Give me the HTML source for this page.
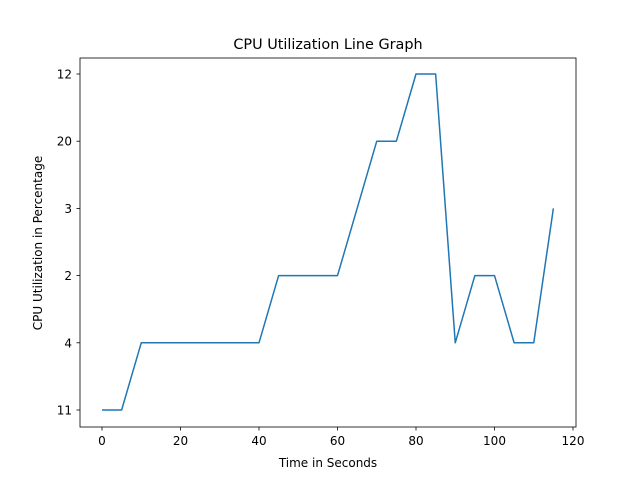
<!DOCTYPE html>
<html><head><meta charset="utf-8"><style>
body{margin:0;background:#fff}
text{font-family:"DejaVu Sans","Liberation Sans",sans-serif;fill:#000}
</style></head><body>
<svg id="chart" width="640" height="480">
<rect x="0" y="0" width="640" height="480" fill="#fff"/>
<text x="328" y="49" font-size="14.4" text-anchor="middle">CPU Utilization Line Graph</text>
<text x="328" y="467" font-size="12" text-anchor="middle">Time in Seconds</text>
<text x="0" y="0" font-size="12" text-anchor="middle" transform="translate(42,243) rotate(-90)">CPU Utilization in Percentage</text>
<g id="ticks"></g>
<path id="line" fill="none" stroke="#1f77b4" stroke-width="1.5" stroke-linejoin="round"/>
<rect x="80" y="58" width="496" height="369" fill="none" stroke="#000" stroke-width="0.8"/>
</svg>
<script>
const categories = ["11","4","2","3","20","12"];
const times = [0,5,10,15,20,25,30,35,40,45,50,55,60,65,70,75,80,85,90,95,100,105,110,115];
const values = ["11","11","4","4","4","4","4","4","4","2","2","2","2","3","20","20","12","12","4","2","2","4","4","3"];
const xTicks = [0,20,40,60,80,100,120];

const NS="http://www.w3.org/2000/svg";
function xs(v){return 102 + (v-0)*(573-102)/120;}
function ys(c){const i=categories.indexOf(c);return 410 - i*(410-74)/5;}
const g=document.getElementById('ticks');
function mk(tag,attrs){const e=document.createElementNS(NS,tag);for(const k in attrs)e.setAttribute(k,attrs[k]);g.appendChild(e);return e;}
xTicks.forEach(t=>{
  const x=xs(t);
  const l=mk('line',{x1:x,x2:x,y1:427,y2:430.5,stroke:'#000','stroke-width':0.8});
  
  
  const tx=mk('text',{x:x,y:445,'font-size':12,'text-anchor':'middle'});
  tx.textContent=t;
  
  
});
categories.forEach(c=>{
  const y=ys(c);
  const l=mk('line',{x1:76.5,x2:80,y1:y,y2:y,stroke:'#000','stroke-width':0.8});
  
  
  const tx=mk('text',{x:72,y:y+4.5,'font-size':12,'text-anchor':'end'});
  tx.textContent=c;
  
  
});
document.getElementById('line').setAttribute('d',times.map((t,i)=>(i?'L':'M')+xs(t)+','+ys(values[i])).join(' '));
</script>
</body></html>
